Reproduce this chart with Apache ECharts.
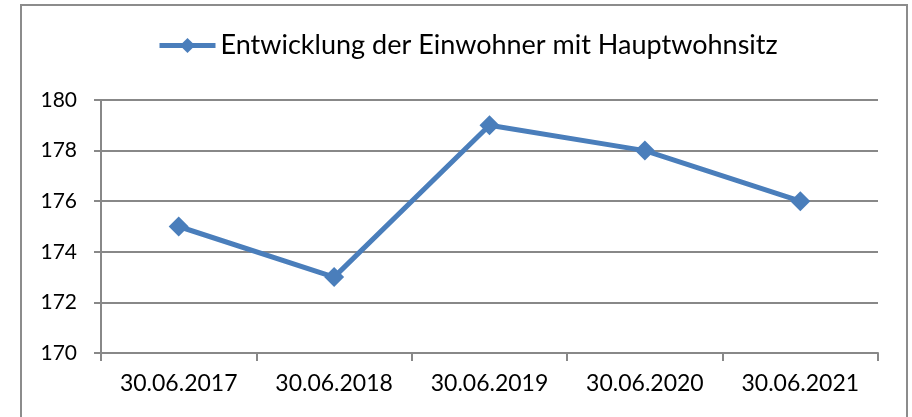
<!DOCTYPE html>
<html>
<head>
<meta charset="utf-8">
<script src="https://cdn.jsdelivr.net/npm/echarts@6/dist/echarts.min.js"></script>
<style>
  html, body { margin: 0; padding: 0; background: #fff; }
  #chart { width: 912px; height: 417px; }
</style>
</head>
<body>
<div id="chart"></div>
<script>
var categories = ['30.06.2017', '30.06.2018', '30.06.2019', '30.06.2020', '30.06.2021'];
var einwohner = [175, 173, 179, 178, 176];
var seriesName = 'Entwicklung der Einwohner mit Hauptwohnsitz';

var chart = echarts.init(document.getElementById('chart'));
chart.setOption({
  animation: false,
  textStyle: { fontFamily: 'Lato' },
  graphic: [{
    type: 'rect',
    shape: { x: 21, y: 5, width: 886, height: 430 },
    style: { fill: 'none', stroke: '#8c8c8c', lineWidth: 2 }
  }],
  legend: {
    top: 32,
    left: 157,
    padding: 0,
    itemWidth: 56,
    itemHeight: 19,
    itemGap: 4,
    lineStyle: { width: 5 },
    textStyle: { fontSize: 27, color: '#000', fontFamily: 'Lato' },
    data: [seriesName]
  },
  grid: { left: 101, right: 34, top: 100, bottom: 64 },
  xAxis: {
    type: 'category',
    data: categories,
    boundaryGap: true,
    axisLine: { lineStyle: { color: '#888', width: 2 } },
    axisTick: { show: true, length: 8, lineStyle: { color: '#888', width: 2 } },
    axisLabel: { color: '#000', fontSize: 23, margin: 19 }
  },
  yAxis: {
    type: 'value',
    min: 170,
    max: 180,
    interval: 2,
    axisLine: { show: true, lineStyle: { color: '#888', width: 2 } },
    axisTick: { show: true, length: 7, lineStyle: { color: '#888', width: 2 } },
    axisLabel: { color: '#000', fontSize: 21, margin: 24 },
    splitLine: { lineStyle: { color: '#888', width: 2 } }
  },
  series: [{
    name: seriesName,
    type: 'line',
    data: einwohner,
    symbol: 'diamond',
    symbolSize: 20,
    itemStyle: { color: '#4a7ebb' },
    lineStyle: { color: '#4a7ebb', width: 5 }
  }]
});
</script>
</body>
</html>
